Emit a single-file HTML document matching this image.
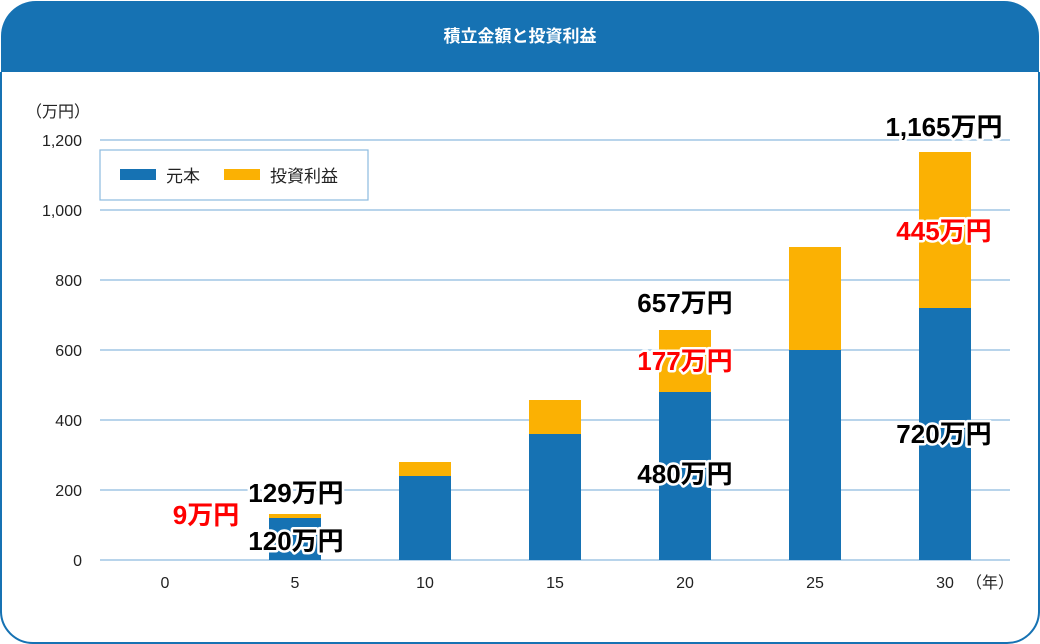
<!DOCTYPE html>
<html><head><meta charset="utf-8"><style>
body{margin:0;background:#fff;}
svg{display:block;font-family:"Liberation Sans","Noto Sans CJK JP",sans-serif;}
.lb{font-weight:bold;font-size:26px;stroke:#fff;stroke-width:5px;paint-order:stroke;stroke-linejoin:round;text-anchor:middle;}
.t{font-size:16px;fill:#222;text-anchor:end;}
.x{font-size:16px;fill:#222;text-anchor:middle;}
</style></head><body>
<svg width="1040" height="644" viewBox="0 0 1040 644">
<path d="M36,1 H1004 A35,35 0 0 1 1039,36 V72 H1 V36 A35,35 0 0 1 36,1 Z" fill="#1672b3"/>
<path d="M1,72 V610 A32,32 0 0 0 33,643 H1007 A32,32 0 0 0 1039,610 V72" fill="none" stroke="#1672b3" stroke-width="2"/>
<text x="520" y="42" fill="#fff" font-size="17" font-weight="bold" text-anchor="middle">積立金額と投資利益</text>
<g stroke="#8dbbdf" stroke-width="1.2">
<line x1="100" y1="140" x2="1010" y2="140"/><line x1="100" y1="210" x2="1010" y2="210"/>
<line x1="100" y1="280" x2="1010" y2="280"/><line x1="100" y1="350" x2="1010" y2="350"/>
<line x1="100" y1="420" x2="1010" y2="420"/><line x1="100" y1="490" x2="1010" y2="490"/>
<line x1="100" y1="560" x2="1010" y2="560"/>
</g>
<text x="26" y="117" font-size="16" fill="#222">（万円）</text>
<text class="t" x="82" y="146">1,200</text><text class="t" x="82" y="216">1,000</text>
<text class="t" x="82" y="286">800</text><text class="t" x="82" y="356">600</text>
<text class="t" x="82" y="426">400</text><text class="t" x="82" y="496">200</text>
<text class="t" x="82" y="566">0</text>
<rect x="100" y="150" width="268" height="50" fill="#fff" stroke="#8dbbdf" stroke-width="1.2"/>
<rect x="120" y="169" width="36" height="11" fill="#1672b3"/>
<text x="166" y="182" font-size="17" fill="#222">元本</text>
<rect x="224" y="169" width="36" height="11" fill="#fbb103"/>
<text x="270" y="182" font-size="17" fill="#222">投資利益</text>
<g fill="#1672b3">
<rect x="269" y="518" width="52" height="42"/><rect x="399" y="476" width="52" height="84"/>
<rect x="529" y="434" width="52" height="126"/><rect x="659" y="392" width="52" height="168"/>
<rect x="789" y="350" width="52" height="210"/><rect x="919" y="308" width="52" height="252"/>
</g>
<g fill="#fbb103">
<rect x="269" y="514" width="52" height="4"/><rect x="399" y="462" width="52" height="14"/>
<rect x="529" y="400" width="52" height="34"/><rect x="659" y="330" width="52" height="62"/>
<rect x="789" y="247" width="52" height="103"/><rect x="919" y="152" width="52" height="156"/>
</g>
<text class="x" x="165" y="588">0</text><text class="x" x="295" y="588">5</text>
<text class="x" x="425" y="588">10</text><text class="x" x="555" y="588">15</text>
<text class="x" x="685" y="588">20</text><text class="x" x="815" y="588">25</text>
<text class="x" x="945" y="588">30</text><text x="966" y="588" font-size="16" fill="#222">（年）</text>
<text class="lb" x="296" y="502" fill="#000">129万円</text>
<text class="lb" x="296" y="550" fill="#000">120万円</text>
<text class="lb" x="206" y="524" fill="#f00" stroke="none">9万円</text>
<text class="lb" x="685" y="312" fill="#000">657万円</text>
<text class="lb" x="685" y="370" fill="#f00">177万円</text>
<text class="lb" x="685" y="483" fill="#000">480万円</text>
<text class="lb" x="944" y="136" fill="#000">1,165万円</text>
<text class="lb" x="944" y="240" fill="#f00">445万円</text>
<text class="lb" x="944" y="443" fill="#000">720万円</text>
</svg>
</body></html>
